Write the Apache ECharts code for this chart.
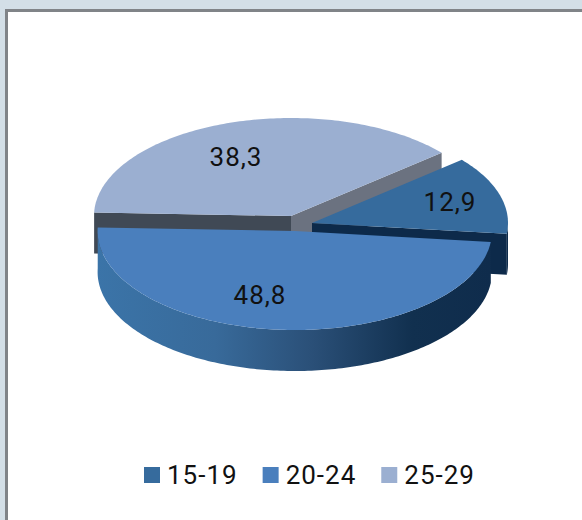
<!DOCTYPE html>
<html>
<head>
<meta charset="utf-8">
<style>
    html, body { margin: 0; padding: 0; background: #d3dfe7; }
    #pie { width: 582px; height: 520px; letter-spacing: 1px; }
</style>
<script src="https://cdn.jsdelivr.net/npm/echarts@6/dist/echarts.min.js"></script>
</head>
<body>
<div id="pie"></div>
<script>
// data
var categories = ['15-19', '20-24', '25-29'];
var values = [12.9, 48.8, 38.3];
var faceColors = ['#366b9d', '#4a7fbd', '#9bafd1'];

// 画面上的饼位置 (pulled slice has its own centre)
var centers = {
    '15-19': { x: 312, y: 223, rx: 196, ry: 98, labelX: 450, labelY: 202 },
    '20-24': { x: 294.8, y: 231, rx: 197.2, ry: 99, labelX: 260, labelY: 295 },
    '25-29': { x: 291, y: 216, rx: 197, ry: 98, labelX: 236, labelY: 157 }
};
var depth = 41;
var startAngle = 178; // 25-29 starts here, then clockwise
var drawOrder = ['25-29', '15-19', '20-24'];

var total = values.reduce(function (a, b) { return a + b; }, 0);

// angle range of each slice, degrees, clockwise from startAngle
var ranges = {};
var cursor = startAngle;
drawOrder.forEach(function (name) {
    var sweep = values[categories.indexOf(name)] / total * 360;
    ranges[name] = { from: cursor, to: cursor - sweep };
    cursor -= sweep;
});

function pt(c, deg, dy) {
    var a = deg * Math.PI / 180;
    return [c.x + c.rx * Math.cos(a), c.y - c.ry * Math.sin(a) + (dy || 0)];
}

function arc(c, from, to, dy) {
    var pts = [];
    var n = Math.max(2, Math.ceil(Math.abs(from - to)));
    for (var i = 0; i <= n; i++) {
        pts.push(pt(c, from + (to - from) * i / n, dy));
    }
    return pts;
}

function poly(points, fill) {
    return { type: 'polygon', shape: { points: points }, style: { fill: fill } };
}

function cutWall(c, deg, fill) {
    var e = pt(c, deg);
    return poly([[c.x, c.y], e, [e[0], e[1] + depth], [c.x, c.y + depth]], fill);
}

var rimGradient = new echarts.graphic.LinearGradient(0, 0, 1, 0, [
    { offset: 0, color: '#3b74a8' },
    { offset: 0.3, color: '#386a9a' },
    { offset: 0.55, color: '#2a4f77' },
    { offset: 0.8, color: '#11304f' },
    { offset: 1, color: '#0f2c4c' }
]);

function renderSlice(params, api) {
    var name = drawOrder[params.seriesIndex];
    var c = centers[name];
    var r = ranges[name];
    var color = faceColors[categories.indexOf(name)];
    var children = [];

    if (name === '25-29') {
        children.push(cutWall(c, r.to, '#6b7280'));
        children.push(cutWall(c, r.from, '#404955'));
    }
    if (name === '15-19') {
        children.push(cutWall(c, r.to, '#0d2a4a'));
        var a1 = arc(c, 0, r.to);
        var a2 = arc(c, r.to, 0, depth);
        children.push(poly(a1.concat(a2), '#0e2c4c'));
    }
    if (name === '20-24') {
        var top = arc(c, r.from, r.to);
        var bottom = arc(c, r.to, r.from, depth);
        children.push(poly(top.concat(bottom), rimGradient));
    }

    children.push(poly([[c.x, c.y]].concat(arc(c, r.from, r.to)), color));
    children.push({
        type: 'text',
        z2: 10,
        style: {
            x: c.labelX,
            y: c.labelY,
            text: String(api.value(0)).replace('.', ','),
            fill: '#111',
            font: '26px Roboto',
            align: 'center',
            verticalAlign: 'middle'
        }
    });
    return { type: 'group', children: children };
}

var seriesList = drawOrder.map(function (name) {
    return {
        name: name,
        type: 'custom',
        coordinateSystem: 'none',
        silent: true,
        animation: false,
        itemStyle: { color: faceColors[categories.indexOf(name)] },
        renderItem: renderSlice,
        data: [[values[categories.indexOf(name)]]]
    };
});

var chart = echarts.init(document.querySelector('#pie'), null, { renderer: 'svg' });

chart.setOption({
    animation: false,
    backgroundColor: '#d3dfe7',
    graphic: [
        { type: 'rect', z: -10, shape: { x: 5, y: 9, width: 590, height: 530 }, style: { fill: '#808488' } },
        { type: 'rect', z: -9, shape: { x: 8, y: 12, width: 590, height: 530 }, style: { fill: '#ffffff' } }
    ],
    legend: {
        data: categories,
        left: 144,
        top: 462,
        padding: 0,
        icon: 'rect',
        itemWidth: 16,
        itemHeight: 16,
        itemGap: 30,
        textStyle: { color: '#111', fontSize: 26, fontFamily: 'Roboto', padding: [0, 0, 0, 2] }
    },
    series: seriesList
});

window.addEventListener('resize', function () {
    chart.resize();
});
</script>
</body>
</html>
